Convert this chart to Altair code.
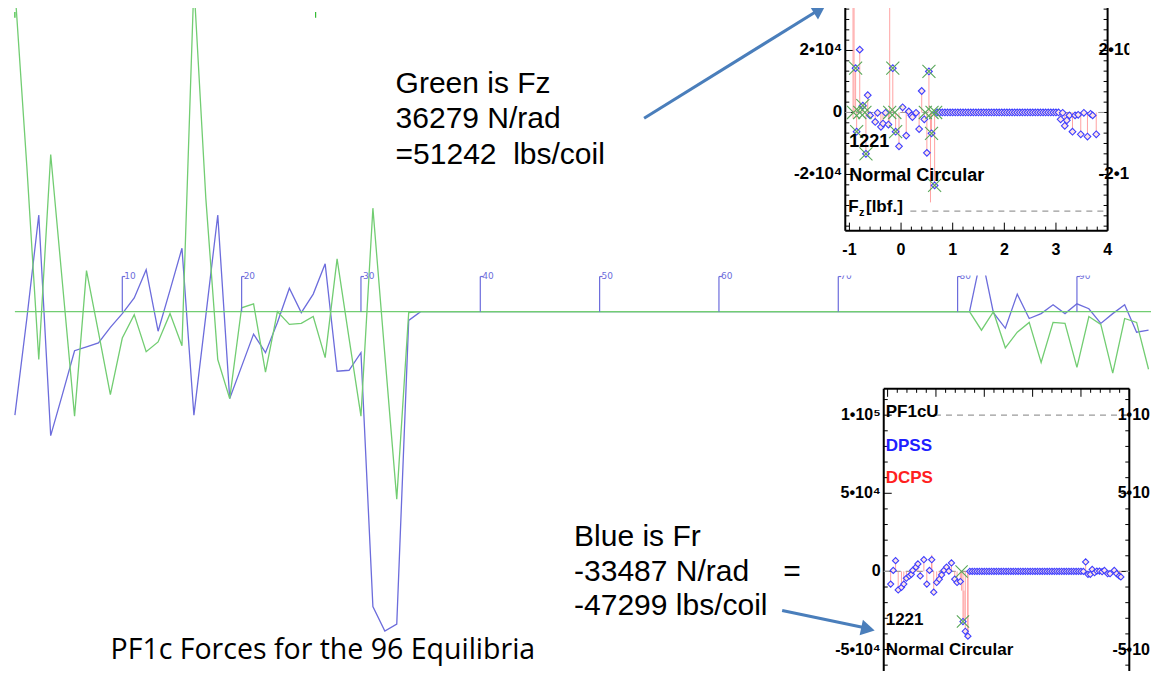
import altair as alt
import pandas as pd

# ---------------- layout ----------------
W, H = 1143, 663
SX, SY = W / 1159, H / 679


def px(x):
    return x * SX


def py(y):
    return y * SY


# ---------------- main chart data (96 equilibria) ----------------
equilibrium = list(range(1, 97))
fz_green = [
    33100, 14900, -4900, 16100, 2700, -10700, 4200, -2100, -8500, -2700,
    -300, -4100, -3100, -200, -3500, 33600, 11600, -4900, -8900, 400,
    800, -6200, 0, -1300, -1200, -500, -4700, 5400, -2700, -10700,
    10600, -4400, -19200, -100, 0, 0, 0, 0, 0, 0,
    0, 0, 0, 0, 0, 0, 0, 0, 0, 0,
    0, 0, 0, 0, 0, 0, 0, 0, 0, 0,
    0, 0, 0, 0, 0, 0, 0, 0, 0, 0,
    0, 0, 0, 0, 0, 0, 0, 0, 0, 0,
    0, -1900, 0, -3700, -2100, -1100, -5200, -1100, -1200, -5700,
    -500, -1300, -6300, -700, -1100, -5900,
]
fr_blue = [
    -10600, -700, 9900, -12700, -8400, -4000, -3600, -3200, -1600, -200,
    1400, 4300, -2000, 2200, 6500, -10600, -400, 9900, -8900, -5600,
    -2300, -4200, -1100, 2400, -100, 1800, 4900, -6100, -6000, -4200,
    -30200, -32700, -32000, -900, 0, 0, 0, 0, 0, 0,
    0, 0, 0, 0, 0, 0, 0, 0, 0, 0,
    0, 0, 0, 0, 0, 0, 0, 0, 0, 0,
    0, 0, 0, 0, 0, 0, 0, 0, 0, 0,
    0, 0, 0, 0, 0, 0, 0, 0, 0, 0,
    0, 5800, -100, -1700, 1800, -700, -200, 700, -200, 800,
    300, -1200, -200, 700, -2100, -1900,
]
tick_index = [10, 20, 30, 40, 50, 60, 70, 80, 90]
tick_labels = ["10", "20", "30", "40", "50", "60", "70", "80", "90"]

# ---------------- inset data (shared x parameter) ----------------
flat_x = [0.70, 0.75, 0.80, 0.85, 0.90, 0.95, 1.00, 1.05, 1.10, 1.15, 1.20, 1.25,
          1.30, 1.35, 1.40, 1.45, 1.50, 1.55, 1.60, 1.65, 1.70, 1.75, 1.80, 1.85,
          1.90, 1.95, 2.00, 2.05, 2.10, 2.15, 2.20, 2.25, 2.30, 2.35, 2.40, 2.45,
          2.50, 2.55, 2.60, 2.65, 2.70, 2.75, 2.80, 2.85, 2.90, 2.95, 3.00, 3.05]
flat_v = [0, 0, 0, 0, 0, 0, 0, 0, 0, 0, 0, 0,
          0, 0, 0, 0, 0, 0, 0, 0, 0, 0, 0, 0,
          0, 0, 0, 0, 0, 0, 0, 0, 0, 0, 0, 0,
          0, 0, 0, 0, 0, 0, 0, 0, 0, 0, 0, 0]

# top inset: Fz [lbf.]
fz_x = [-0.88, -0.86, -0.80, -0.74, -0.68, -0.645, -0.60, -0.50, -0.455, -0.39,
        -0.35, -0.30, -0.245, -0.16, -0.105, -0.04, 0.03, 0.10, 0.15, 0.20,
        0.22, 0.29, 0.35, 0.40, 0.45, 0.50, 0.54, 0.59, 0.65]
fz_v = [14280, -6195, 20265, 2200, -13335, 5565, -945, -3045, -105, -4620,
        -3570, -105, -3885, 14280, -6195, -10920, 1680, -7455, 315, -945,
        -1470, -105, -5355, 6930, -2205, -13020, 13230, -6720, -23520]
fz_late_x = [3.09, 3.13, 3.17, 3.21, 3.26, 3.32, 3.37, 3.43, 3.48, 3.54, 3.61, 3.67, 3.71, 3.78]
fz_late_v = [-2205, -105, -4305, -2520, -945, -6195, -945, -735, -7035, -105, -7770, -420, -945, -7035]
fz_cross_x = [-0.92, -0.88, -0.86, -0.80, -0.74, -0.70, -0.68, -0.22, -0.16, -0.12, -0.105,
              0.47, 0.54, 0.59, 0.60, 0.65, 0.67]
fz_cross_v = [0, 14280, -6195, 0, 2200, 0, -13335, 0, 14280, 0, -6195,
              0, 13230, -6720, 0, -23520, 0]
fz_red_x = [-0.93, -0.91, -0.22, 0.57]
fz_red_from = [-2000, 0, -5000, 0]
fz_red_to = [60000, 60000, 60000, -29000]

# bottom inset: Fr
fr_x = [-0.937, -0.883, -0.835, -0.781, -0.713, -0.665, -0.611, -0.549, -0.509, -0.481,
        -0.413, -0.373, -0.325, -0.250, -0.189, -0.134, -0.087, -0.046, 0.015, 0.070,
        0.117, 0.165, 0.219, 0.267, 0.321, 0.389, 0.437, 0.505, 0.559, 0.607, 0.661]
fr_v = [-8125, 625, 6875, -11875, -10210, -8125, -4375, -2915, -1875, 625,
        2710, 4790, -2915, 7500, -8125, 625, 7500, -13330, -7080, -5000,
        -2290, 625, 2710, 210, 5415, -5000, -7080, -6460, -32080, -38330, -41450]
fr_late_x = [3.097, 3.145, 3.193, 3.233, 3.281, 3.329, 3.383, 3.437, 3.485, 3.553,
             3.601, 3.689, 3.737, 3.791, 3.825]
fr_late_v = [6040, -1875, -1875, 1250, -830, 210, 210, -210, 625, -1460,
             -1460, 625, -1460, -2915, -3540]
fr_cross_x = [0.53, 0.559]
fr_cross_v = [0, -32080]
fr_red_x = [-0.087, 0.53, 0.58, 0.66]
fr_red_from = [0, 0, -12300, 0]
fr_red_to = [10625, -12300, -32000, -41450]

# ---------------- styles ----------------
GREEN = "#72cd72"
BLUE = "#6c6cdc"
ARROW = "#4a7ebb"
SANS = "Liberation Sans"

MX = alt.Scale(domain=[1 - 7 / 12.1, 1 + 1152 / 12.1], range=[0, W], nice=False, zero=False)
MY = alt.Scale(domain=[-36800, 31100], range=[H, 0], nice=False, zero=False)
TX0, TX1, TY0, TY1 = -1.08, 4.0, -38110, 33701
BX0, BX1, BY0, BY1 = -1.08, 4.0, -63750, 116875
TX = alt.Scale(domain=[TX0, TX1], range=[px(849), px(1115)], nice=False, zero=False)
TY = alt.Scale(domain=[TY0, TY1], range=[py(228), py(0)], nice=False, zero=False)
BX = alt.Scale(domain=[BX0, BX1], range=[px(888), px(1137)], nice=False, zero=False)
BY = alt.Scale(domain=[BY0, BY1], range=[py(679), py(390)], nice=False, zero=False)


def xq(f, s):
    return alt.X(f, type="quantitative", scale=s, axis=None)


def yq(f, s):
    return alt.Y(f, type="quantitative", scale=s, axis=None)


def segs(df, sx, sy, **mk):
    return alt.Chart(df).mark_rule(**mk).encode(
        x=xq("x", sx), x2="x2:Q", y=yq("y", sy), y2="y2:Q")


def pts(xs, vs, sx, sy, **mk):
    return alt.Chart(pd.DataFrame({"x": xs, "v": vs})).mark_point(opacity=1, **mk).encode(
        x=xq("x", sx), y=yq("v", sy))


def dtext(xs, ys, labs, sx, sy, **mk):
    df = pd.DataFrame({"x": xs, "y": ys, "lab": labs})
    return alt.Chart(df).mark_text(**mk).encode(x=xq("x", sx), y=yq("y", sy), text="lab:N")


def ftext(t, x, y, size, color="black", weight="normal", font=SANS, baseline="middle", align="left"):
    return alt.Chart(pd.DataFrame({"t": [t]})).mark_text(
        align=align, baseline=baseline, fontSize=size, font=font,
        fontWeight=weight, color=color).encode(
        x=alt.value(px(x)), y=alt.value(py(y)), text="t:N")


def box(x0, x1, y0, y1):
    return alt.Chart(pd.DataFrame({"k": [0]})).mark_rect(color="white", opacity=1).encode(
        x=alt.value(px(x0)), x2=alt.value(px(x1)), y=alt.value(py(y0)), y2=alt.value(py(y1)))


def frame_ticks(x0, x1, y0, y1, kx, ky, yvals, ymaj, xvals, xmaj, xedge):
    rows = []
    for v in yvals:
        L = 8 if v in ymaj else 4
        rows.append({"x": x0, "x2": x0 + L / kx, "y": v, "y2": v})
        rows.append({"x": x1 - L / kx, "x2": x1, "y": v, "y2": v})
    for u in xvals:
        L = 8 if u in xmaj else 4
        if xedge == "bottom":
            rows.append({"x": u, "x2": u, "y": y0, "y2": y0 + L / ky})
        else:
            rows.append({"x": u, "x2": u, "y": y1 - L / ky, "y2": y1})
    return pd.DataFrame(rows)


layers = []

# ---------------- main chart ----------------
main_df = pd.DataFrame({"i": equilibrium, "fz": fz_green, "fr": fr_blue})
layers.append(alt.Chart(main_df).mark_line(color=BLUE, strokeWidth=1.3).encode(
    x=xq("i", MX), y=yq("fr", MY)))
layers.append(alt.Chart(main_df).mark_line(color=GREEN, strokeWidth=1.3).encode(
    x=xq("i", MX), y=yq("fz", MY)))
layers.append(segs(pd.DataFrame({"x": [1], "x2": [97], "y": [0], "y2": [0]}), MX, MY,
                   color=GREEN, strokeWidth=1.3))
layers.append(segs(pd.DataFrame({"x": [1.0, 26.2], "x2": [1.0, 26.2], "y": [30700, 30700], "y2": [30100, 30100]}),
                   MX, MY, color="#33bb33", strokeWidth=1.2))
tick_df = pd.DataFrame({"x": tick_index, "x2": tick_index, "y": [0] * 9, "y2": [3600] * 9})
layers.append(segs(tick_df, MX, MY, color=BLUE, strokeWidth=1.2))
stub_df = pd.DataFrame({"x": tick_index, "x2": [t + 0.25 for t in tick_index],
                        "y": [3600] * 9, "y2": [3600] * 9})
layers.append(segs(stub_df, MX, MY, color=BLUE, strokeWidth=1.2))
layers.append(dtext(tick_index, [3700] * 9, tick_labels, MX, MY, align="left", baseline="middle",
                    dx=2, fontSize=9, font="DejaVu Sans", color=BLUE))

# white backgrounds of the two inset pictures
layers.append(box(798, 1200, -20, 274))
layers.append(box(836, 1200, 385, 720))

# ---------------- top inset (Fz) ----------------
tkx = (px(1115) - px(849)) / (TX1 - TX0)
tky = (py(228) - py(0)) / (TY1 - TY0)
t_yvals = [k * 20000 / 6 for k in range(-11, 11)]
t_xvals = [round(-1 + 0.2 * k, 1) for k in range(0, 26)]
layers.append(segs(frame_ticks(TX0, TX1, TY0, TY1, tkx, tky, t_yvals, [-20000, 0, 20000],
                               t_xvals, [-1.0, 0.0, 1.0, 2.0, 3.0, 4.0], "bottom"),
                   TX, TY, color="black", strokeWidth=1))
layers.append(segs(pd.DataFrame({"x": [TX0, TX1, TX0], "x2": [TX0, TX1, TX1],
                                 "y": [TY0, TY0, TY0], "y2": [90000, 90000, TY0]}),
                   TX, TY, color="black", strokeWidth=2))
layers.append(segs(pd.DataFrame({"x": [TX0, 0.18], "x2": [TX1, TX1], "y": [0, -31811], "y2": [0, -31811]}),
                   TX, TY, color="#9a9a9a", strokeWidth=1.2, strokeDash=[6, 5]))
t_all_x = fz_x + fz_late_x
t_all_v = fz_v + fz_late_v
stem_t = pd.DataFrame({"x": t_all_x + fz_red_x, "x2": t_all_x + fz_red_x,
                       "y": [0] * len(t_all_x) + fz_red_from, "y2": t_all_v + fz_red_to})
layers.append(segs(stem_t, TX, TY, color="#ff8c8c", strokeWidth=1, opacity=0.8))
layers.append(pts(fz_x + flat_x + fz_late_x, fz_v + flat_v + fz_late_v, TX, TY,
                  shape="diamond", filled=True, fill="#ffe4e4", stroke="#3f3fff",
                  strokeWidth=1.1, size=45))
layers.append(pts(fz_cross_x, fz_cross_v, TX, TY, shape="M-1,-1L1,1M1,-1L-1,1",
                  filled=False, stroke="#5aa85a", strokeWidth=1.1, size=170))
layers.append(dtext([TX0] * 3, [20000, 0, -20000], ["2•10⁴", "0", "-2•10⁴"], TX, TY,
                    align="right", baseline="middle", dx=-3, fontSize=17, fontWeight="bold", font=SANS))
layers.append(dtext([TX1] * 2, [20000, -20000], ["2•10⁴", "-2•10⁴"], TX, TY,
                    align="left", baseline="middle", dx=-9, fontSize=17, fontWeight="bold", font=SANS))
layers.append(dtext([-1, 0, 1, 2, 3, 4], [TY0] * 6, ["-1", "0", "1", "2", "3", "4"], TX, TY,
                    align="center", baseline="middle", dy=19, fontSize=16, fontWeight="bold", font=SANS))
layers.append(ftext("1221", 853, 137, 18, weight="bold"))
layers.append(ftext("Normal Circular", 853, 172, 18, weight="bold"))
layers.append(ftext("F", 852, 204, 17, weight="bold"))
layers.append(ftext("z", 863, 210, 11, weight="bold"))
layers.append(ftext("[lbf.]", 870, 204, 17, weight="bold"))
layers.append(box(1137, 1200, -20, 205))

# ---------------- bottom inset (Fr) ----------------
bkx = (px(1137) - px(888)) / (BX1 - BX0)
bky = (py(679) - py(390)) / (BY1 - BY0)
b_yvals = [k * 10000 for k in range(-6, 12)]
layers.append(segs(frame_ticks(BX0, BX1, BY0, BY1, bkx, bky, b_yvals, [-50000, 0, 50000, 100000],
                               t_xvals, [-1.0, 0.0, 1.0, 2.0, 3.0, 4.0], "top"),
                   BX, BY, color="black", strokeWidth=1))
layers.append(segs(pd.DataFrame({"x": [BX0, BX1, BX0], "x2": [BX0, BX1, BX1],
                                 "y": [-90000, -90000, BY1], "y2": [BY1, BY1, BY1]}),
                   BX, BY, color="black", strokeWidth=2))
layers.append(segs(pd.DataFrame({"x": [BX0, -0.02], "x2": [BX1, BX1], "y": [0, 100000], "y2": [0, 100000]}),
                   BX, BY, color="#9a9a9a", strokeWidth=1.2, strokeDash=[6, 5]))
b_all_x = fr_x + fr_late_x
b_all_v = fr_v + fr_late_v
stem_b = pd.DataFrame({"x": b_all_x + fr_red_x, "x2": b_all_x + fr_red_x,
                       "y": [0] * len(b_all_x) + fr_red_from, "y2": b_all_v + fr_red_to})
layers.append(segs(stem_b, BX, BY, color="#ff8c8c", strokeWidth=1, opacity=0.8))
layers.append(pts(fr_x + flat_x + fr_late_x, fr_v + flat_v + fr_late_v, BX, BY,
                  shape="diamond", filled=True, fill="#ffe4e4", stroke="#3f3fff",
                  strokeWidth=1.1, size=38))
layers.append(pts(fr_cross_x, fr_cross_v, BX, BY, shape="M-1,-1L1,1M1,-1L-1,1",
                  filled=False, stroke="#5aa85a", strokeWidth=1.1, size=150))
layers.append(dtext([BX0] * 4, [100000, 50000, 0, -50000], ["1•10⁵", "5•10⁴", "0", "-5•10⁴"], BX, BY,
                    align="right", baseline="middle", dx=-3, fontSize=16, fontWeight="bold", font=SANS))
# right-hand labels of the neighbouring panel, cut by the picture edge
layers.append(ftext("1•10", 1158, 417, 16, weight="bold", align="right"))
layers.append(ftext("5•10", 1158, 497, 16, weight="bold", align="right"))
layers.append(ftext("-5•10", 1158, 657, 16, weight="bold", align="right"))
layers.append(ftext("PF1cU", 890, 414, 17, weight="bold"))
layers.append(ftext("DPSS", 890, 449, 17, color="#2020ff", weight="bold"))
layers.append(ftext("DCPS", 890, 481, 17, color="#ff2020", weight="bold"))
layers.append(ftext("1221", 890, 627, 17, weight="bold"))
layers.append(ftext("Normal Circular", 890, 658, 17, weight="bold"))

# ---------------- annotations ----------------
layers.append(ftext("Green is Fz", 393, 87, 30, baseline="alphabetic"))
layers.append(ftext("36279 N/rad", 393, 123, 30, baseline="alphabetic"))
layers.append(ftext("=51242\u00a0 lbs/coil", 393, 160, 30, baseline="alphabetic"))
layers.append(ftext("Blue is Fr", 574, 551, 30, baseline="alphabetic"))
layers.append(ftext("-33487 N/rad", 574, 587, 30, baseline="alphabetic"))
layers.append(ftext("=", 786, 587, 30, baseline="alphabetic"))
layers.append(ftext("-47299 lbs/coil", 574, 622, 30, baseline="alphabetic"))
layers.append(ftext("PF1c Forces for the 96 Equilibria", 104, 667, 28.5, font="Open Sans", baseline="alphabetic"))

one = pd.DataFrame({"k": [0]})
layers.append(alt.Chart(one).mark_rule(color=ARROW, strokeWidth=3).encode(
    x=alt.value(px(645)), y=alt.value(py(113)), x2=alt.value(px(822)), y2=alt.value(py(2))))
layers.append(alt.Chart(one).mark_point(shape="triangle-up", filled=True, color=ARROW, opacity=1,
                                         size=260, angle=58).encode(
    x=alt.value(px(823)), y=alt.value(py(1))))
layers.append(alt.Chart(one).mark_rule(color=ARROW, strokeWidth=3).encode(
    x=alt.value(px(785)), y=alt.value(py(617)), x2=alt.value(px(870)), y2=alt.value(py(635))))
layers.append(alt.Chart(one).mark_point(shape="triangle-up", filled=True, color=ARROW, opacity=1,
                                         size=250, angle=102).encode(
    x=alt.value(px(872)), y=alt.value(py(636))))

chart = alt.layer(*layers).resolve_scale(x="independent", y="independent").properties(
    width=W, height=H, padding=0, background="white",
    autosize=alt.AutoSizeParams(type="none"),
).configure_view(strokeWidth=0)

chart.save("out.html", embed_options={"renderer": "svg", "actions": False})
